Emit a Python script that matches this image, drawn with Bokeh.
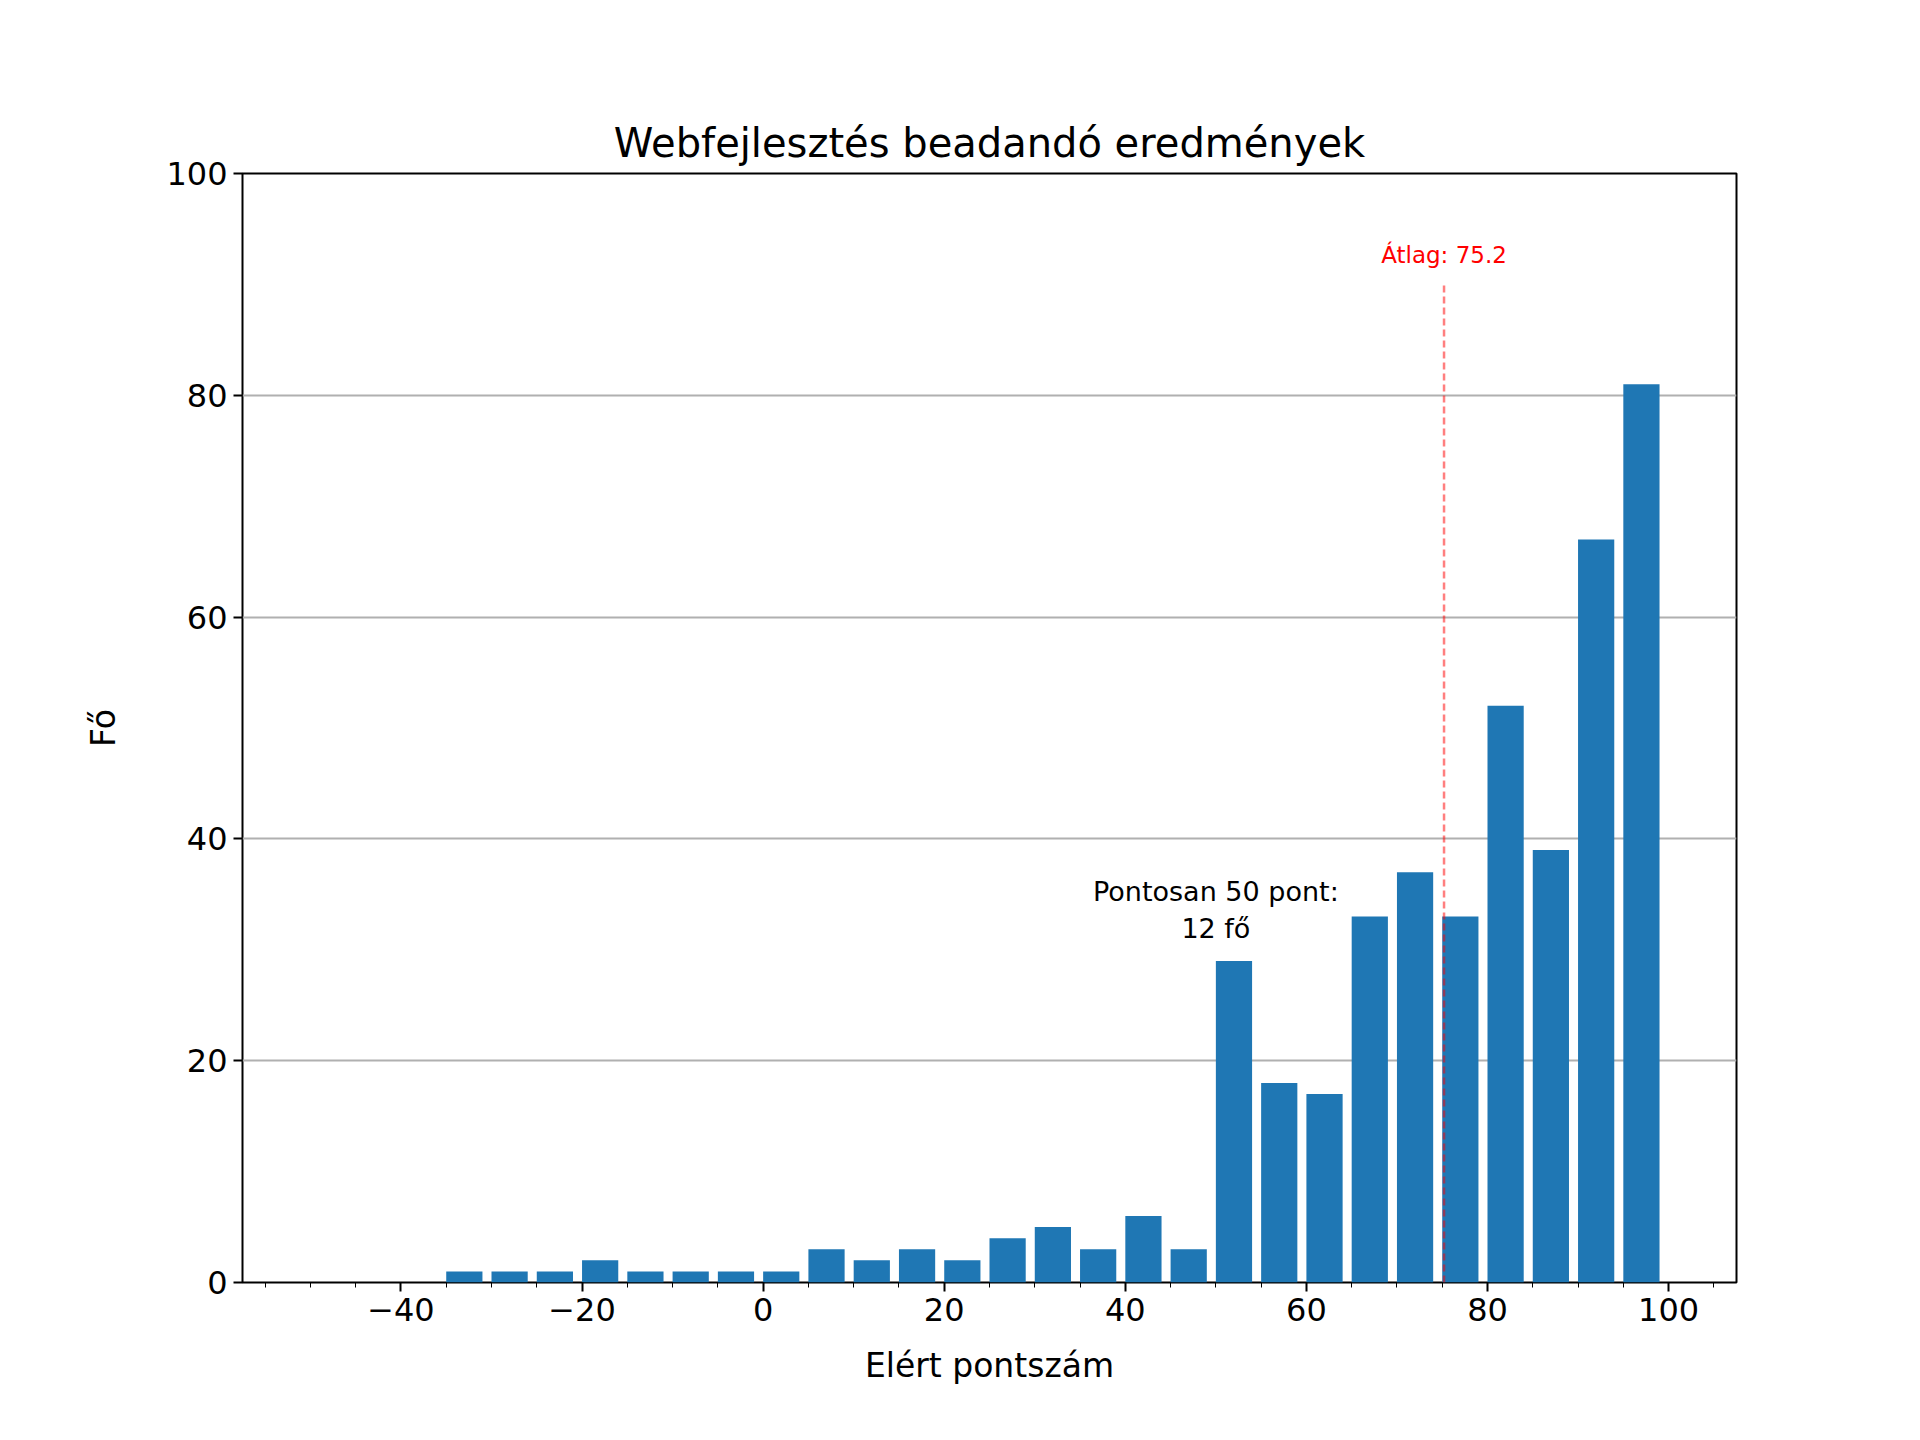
from bokeh.plotting import figure
from bokeh.models import Range1d, FixedTicker
from bokeh.core.properties import value
from bokeh.embed import file_html
from bokeh.resources import INLINE

bin_left = [-35,-30,-25,-20,-15,-10,-5,0,5,10,15,20,25,30,35,40,45,50,55,60,65,70,75,80,85,90,95]
counts = [1,1,1,2,1,1,1,1,3,2,3,2,4,5,3,6,3,29,18,17,33,37,33,52,39,67,81]
mean_val = 75.2
bar_w = 4
x_ticks = [-40,-20,0,20,40,60,80,100]
y_ticks = [0,20,40,60,80,100]
F = "DejaVu Sans"

p = figure(width=1900, height=1420, output_backend="svg", toolbar_location=None,
           x_range=Range1d(-57.5, 107.5), y_range=Range1d(0, 100),
           title="Webfejlesztés beadandó eredmények",
           min_border_left=242, min_border_right=164, min_border_top=173, min_border_bottom=138)
p.title.align = "center"
p.title.text_font = F
p.title.text_font_size = "40px"
p.title.text_font_style = "normal"
p.title.text_color = "black"
p.title.offset = 0
p.title.standoff = 16

right = [b + bar_w for b in bin_left]
p.quad(left=bin_left, right=right, bottom=0, top=counts, fill_color="#1f77b4", line_color=None)

p.segment(x0=[mean_val], y0=[0], x1=[mean_val], y1=[90], line_color="red", line_alpha=0.5,
          line_dash="7 4", line_width=2.5)
p.text(x=[mean_val], y=[91.5], text=["Átlag: 75.2"], text_color="red", text_align="center",
       text_baseline="bottom", text_font=value(F), text_font_size="23px")
p.text(x=[50], y=[30.5], text=["Pontosan 50 pont:\n12 fő"], text_color="black", text_align="center",
       text_baseline="bottom", text_font=value(F), text_font_size="27px")

p.xaxis.ticker = FixedTicker(ticks=x_ticks, minor_ticks=list(range(-55, 106, 5)))
p.yaxis.ticker = FixedTicker(ticks=y_ticks, minor_ticks=[])
p.xaxis.axis_label = "Elért pontszám"
p.yaxis.axis_label = "Fő"
for ax in (p.xaxis, p.yaxis):
    ax.axis_label_text_font = F
    ax.axis_label_text_font_style = "normal"
    ax.axis_label_text_font_size = "33px"
    ax.axis_label_text_color = "black"
    ax.major_label_text_font = F
    ax.major_label_text_font_size = "32px"
    ax.major_label_text_color = "black"
    ax.major_tick_out = 9
    ax.major_tick_in = 0
    ax.minor_tick_out = 5
    ax.minor_tick_in = 0
    ax.major_tick_line_width = 2
    ax.axis_line_color = None
    ax.major_label_standoff = 6
p.xaxis.axis_label_standoff = 22
p.yaxis.axis_label_standoff = 40
p.xaxis.major_label_overrides = {t: ("−" + str(-t) if t < 0 else str(t)) for t in x_ticks}
p.xgrid.grid_line_color = None
p.ygrid.grid_line_color = "#b0b0b0"
p.ygrid.grid_line_width = 2
p.outline_line_color = "black"
p.outline_line_width = 2
p.background_fill_color = "white"

open("out.html", "w").write(file_html(p, INLINE))
